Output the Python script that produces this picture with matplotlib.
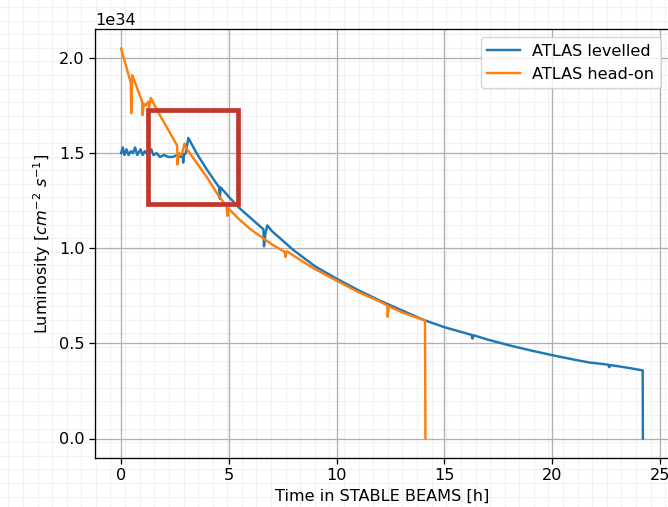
import numpy as np
import matplotlib
matplotlib.use('Agg')
import matplotlib.pyplot as plt
from matplotlib.lines import Line2D
from matplotlib.patches import Rectangle

# DATA ---------------------------------------------------------------------------------------------
lumi_unit = 1e34

# ATLAS levelled: time [h], luminosity [1e34 cm^-2 s^-1]
levelled_t = [0.00, 0.08, 0.15, 0.25, 0.35, 0.45, 0.55, 0.65, 0.75, 0.90, 1.00, 1.10, 1.25,
              1.40, 1.50, 1.65, 1.80, 2.00, 2.20, 2.40, 2.60, 2.75, 2.85, 2.88, 2.92, 3.00,
              3.12, 3.50, 4.00, 4.55, 4.58, 4.62, 5.00, 5.50, 6.00, 6.60, 6.63, 6.70, 6.78,
              7.00, 7.50, 8.00, 9.00, 10.00, 11.00, 12.00, 13.00, 14.00, 15.00, 16.25, 16.30,
              16.35, 17.00, 18.00, 19.00, 20.00, 21.00, 21.70, 22.60, 22.65, 22.70, 23.50,
              24.20, 24.21]
levelled_l = [1.50, 1.53, 1.49, 1.52, 1.49, 1.51, 1.50, 1.53, 1.49, 1.52, 1.49, 1.51, 1.49,
              1.52, 1.49, 1.50, 1.48, 1.49, 1.48, 1.48, 1.49, 1.48, 1.50, 1.45, 1.49, 1.50,
              1.58, 1.50, 1.41, 1.32, 1.26, 1.32, 1.27, 1.21, 1.16, 1.10, 1.01, 1.08, 1.12,
              1.09, 1.04, 0.99, 0.905, 0.84, 0.78, 0.725, 0.675, 0.625, 0.585, 0.545, 0.525,
              0.543, 0.52, 0.49, 0.463, 0.438, 0.415, 0.40, 0.388, 0.375, 0.386, 0.372,
              0.358, 0.0]

# ATLAS head-on
headon_t = [0.00, 0.20, 0.45, 0.47, 0.52, 0.75, 0.98, 1.00, 1.05, 1.15, 1.25, 1.30, 1.38,
            1.70, 2.00, 2.30, 2.60, 2.62, 2.68, 2.80, 2.95, 3.00, 3.50, 4.00, 4.50, 4.90,
            4.93, 4.97, 5.50, 6.00, 6.50, 7.00, 7.60, 7.63, 7.68, 8.50, 9.00, 10.00, 11.00,
            12.00, 12.35, 12.37, 12.42, 13.00, 13.60, 14.10, 14.12]
headon_l = [2.05, 1.97, 1.87, 1.71, 1.91, 1.84, 1.77, 1.70, 1.76, 1.75, 1.77, 1.74, 1.79,
            1.72, 1.66, 1.60, 1.54, 1.44, 1.50, 1.49, 1.55, 1.53, 1.45, 1.37, 1.28, 1.22,
            1.17, 1.21, 1.15, 1.10, 1.06, 1.02, 0.98, 0.955, 0.985, 0.925, 0.89, 0.83, 0.77,
            0.72, 0.70, 0.64, 0.695, 0.665, 0.64, 0.62, 0.0]

# STYLE --------------------------------------------------------------------------------------------
plt.rcParams.update({
    'font.size': 11.6,
    'axes.linewidth': 0.93,
    'lines.linewidth': 1.75,
    'xtick.major.size': 4.0,
    'ytick.major.size': 4.0,
    'xtick.major.width': 0.93,
    'ytick.major.width': 0.93,
    'grid.linewidth': 0.93,
})

W, H = 668, 507
fig = plt.figure(figsize=(W / 100, H / 100), dpi=100)

# faint paper grid behind the whole page
for x in np.arange(8.3, W, 14.6):
    fig.add_artist(Line2D([x / W, x / W], [0, 1], color='#f2f2f2', lw=0.8, zorder=-10))
for y in np.arange(7.0, H, 13.6):
    fig.add_artist(Line2D([0, 1], [1 - y / H, 1 - y / H], color='#f2f2f2', lw=0.8, zorder=-10))

# PLOT ---------------------------------------------------------------------------------------------
ax = fig.add_axes([95 / W, 49 / H, 574 / W, 429 / H])
ax.patch.set_alpha(0)

ax.plot(levelled_t, np.array(levelled_l) * lumi_unit, color='#1f77b4', label='ATLAS levelled')
ax.plot(headon_t, np.array(headon_l) * lumi_unit, color='#ff7f0e', label='ATLAS head-on')

ax.grid(True)
ax.set_xlabel('Time in STABLE BEAMS [h]')
ax.set_ylabel(r'Luminosity [$cm^{-2}\ s^{-1}$]')
ax.legend(loc='upper right')

# highlight box around the start of levelling
ax.add_patch(Rectangle((1.27, 1.235 * lumi_unit), 4.14, 0.49 * lumi_unit, fill=False,
                       edgecolor='#c1372c', linewidth=3.4, zorder=5))

fig.savefig('out.png', dpi=100)
